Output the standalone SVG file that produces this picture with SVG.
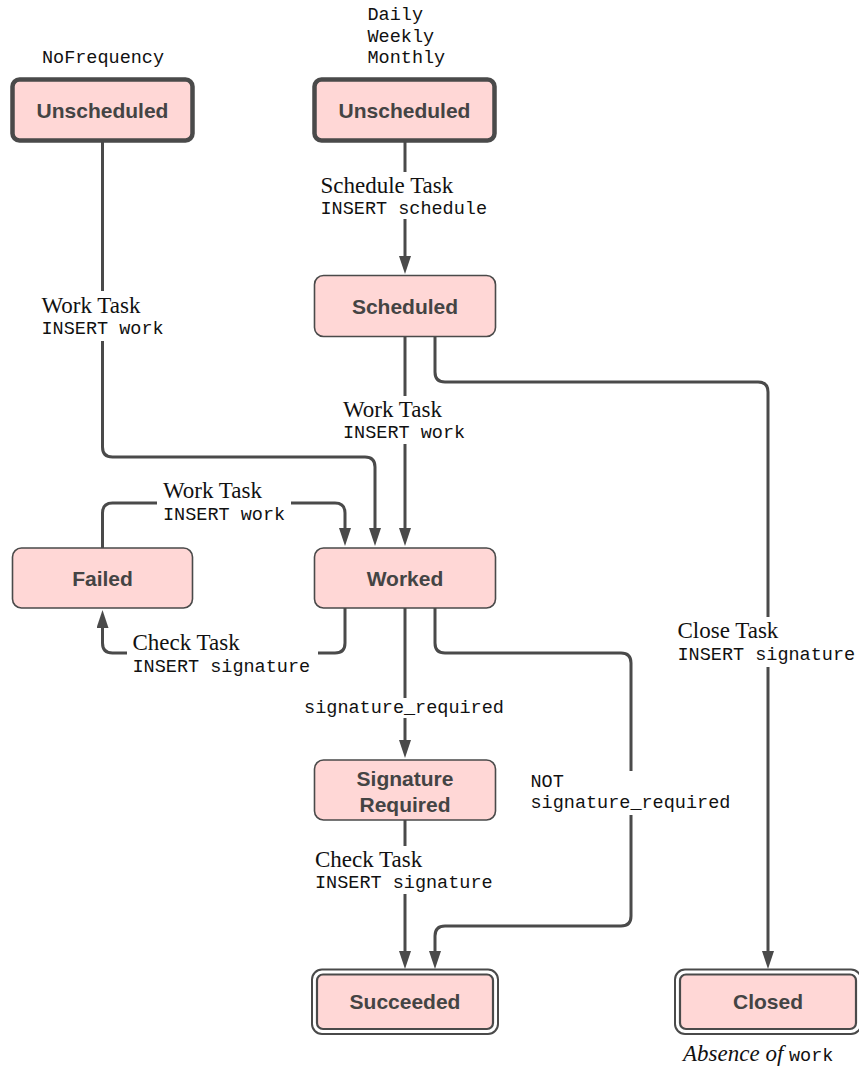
<svg xmlns="http://www.w3.org/2000/svg" width="859" height="1070" viewBox="0 0 859 1070">
<defs>
<marker id="arr" viewBox="0 0 18 12" refX="12" refY="6" markerWidth="18" markerHeight="12" markerUnits="userSpaceOnUse" orient="auto">
<path d="M0,0 L18,6 L0,12 z" fill="#4a4a4a"/>
</marker>
<style>
.box{fill:#ffd7d6;stroke:#4a4a4a;stroke-width:1.6}
.start{fill:#ffd7d6;stroke:#4a4a4a;stroke-width:4.5}
.outer{fill:#fff;stroke:#4a4a4a;stroke-width:2}
.inner{fill:#ffd7d6;stroke:#4a4a4a;stroke-width:2.2}
.lbl{font-family:"Liberation Sans",Arial,sans-serif;font-weight:bold;font-size:21px;fill:#444;text-anchor:middle}
.ser{font-family:"Liberation Serif","Times New Roman",serif;font-size:23px;fill:#111}
.mono{font-family:"Liberation Mono","Courier New",monospace;font-size:18.5px;fill:#111}
.edge{fill:none;stroke:#4a4a4a;stroke-width:3}
.arrow{marker-end:url(#arr)}
.bg{fill:#fff}
</style>
</defs>
<rect width="859" height="1070" fill="#fff"/>

<g id="connectors">
<path class="edge arrow" d="M405,141 V268"/>
<path class="edge arrow" d="M405,337 V540"/>
<path class="edge arrow" d="M102.5,141 V447 Q102.5,457 112.5,457 H365 Q375,457 375,467 V540"/>
<path class="edge arrow" d="M102.5,548 V513 Q102.5,503 112.5,503 H335 Q345,503 345,513 V540"/>
<path class="edge arrow" d="M345,608 V643 Q345,653 335,653 H112.5 Q102.5,653 102.5,643 V616"/>
<path class="edge arrow" d="M405,608 V752"/>
<path class="edge arrow" d="M435,608 V643 Q435,653 445,653 H621 Q631,653 631,663 V916 Q631,926 621,926 H445 Q435,926 435,936 V963"/>
<path class="edge arrow" d="M405,820 V963"/>
<path class="edge arrow" d="M435,337 V372 Q435,382 445,382 H758 Q768,382 768,392 V963"/>
</g>

<g id="edge-labels">
<rect class="bg" x="318" y="172" width="172" height="47"/>
<text class="ser" x="320.5" y="193">Schedule Task</text>
<text class="mono" x="320.5" y="213.5">INSERT schedule</text>

<rect class="bg" x="39" y="291" width="129" height="50"/>
<text class="ser" x="41.5" y="313">Work Task</text>
<text class="mono" x="41.5" y="334">INSERT work</text>

<rect class="bg" x="340" y="396" width="128" height="48"/>
<text class="ser" x="343" y="417">Work Task</text>
<text class="mono" x="343" y="438">INSERT work</text>

<rect class="bg" x="157" y="479" width="134" height="45"/>
<text class="ser" x="163" y="498">Work Task</text>
<text class="mono" x="163" y="520">INSERT work</text>

<rect class="bg" x="127" y="631" width="191" height="45"/>
<text class="ser" x="132.5" y="650">Check Task</text>
<text class="mono" x="132.5" y="671.5">INSERT signature</text>

<rect class="bg" x="673" y="617" width="186" height="50"/>
<text class="ser" x="677.5" y="638">Close Task</text>
<text class="mono" x="677.5" y="660">INSERT signature</text>

<rect class="bg" x="300" y="698" width="208" height="20"/>
<text class="mono" x="404" y="712.5" text-anchor="middle">signature_required</text>

<rect class="bg" x="527" y="771" width="207" height="44"/>
<text class="mono" x="530.5" y="786.5">NOT</text>
<text class="mono" x="530.5" y="807.5">signature_required</text>

<rect class="bg" x="311" y="846" width="185" height="48"/>
<text class="ser" x="315" y="867">Check Task</text>
<text class="mono" x="315" y="888">INSERT signature</text>
</g>

<g id="unscheduled-nofrequency">
<text class="mono" x="103" y="62.5" text-anchor="middle">NoFrequency</text>
<rect class="start" x="12.5" y="79.5" width="180" height="61" rx="7"/>
<text class="lbl" x="102.5" y="117.5">Unscheduled</text>
</g>

<g id="unscheduled-periodic">
<text class="mono" x="367.5" y="20">Daily</text>
<text class="mono" x="367.5" y="41.5">Weekly</text>
<text class="mono" x="367.5" y="62.5">Monthly</text>
<rect class="start" x="314.5" y="79.5" width="180" height="61" rx="7"/>
<text class="lbl" x="404.5" y="117.5">Unscheduled</text>
</g>

<g id="scheduled">
<rect class="box" x="314.5" y="275.5" width="181" height="61" rx="9"/>
<text class="lbl" x="405" y="313.5">Scheduled</text>
</g>

<g id="failed">
<rect class="box" x="12.5" y="548" width="180" height="60" rx="9"/>
<text class="lbl" x="102.5" y="585.5">Failed</text>
</g>

<g id="worked">
<rect class="box" x="314.5" y="548" width="181" height="60" rx="9"/>
<text class="lbl" x="405" y="585.5">Worked</text>
</g>

<g id="signature-required">
<rect class="box" x="314.5" y="760" width="181" height="60" rx="9"/>
<text class="lbl" x="405" y="785.5">Signature</text>
<text class="lbl" x="405" y="811.5">Required</text>
</g>

<g id="succeeded">
<rect class="outer" x="312" y="969.5" width="186" height="64.5" rx="10"/>
<rect class="inner" x="317" y="974.5" width="176" height="54.5" rx="6"/>
<text class="lbl" x="405" y="1009">Succeeded</text>
</g>

<g id="closed">
<rect class="outer" x="675" y="969.5" width="186" height="64.5" rx="10"/>
<rect class="inner" x="680" y="974.5" width="176" height="54.5" rx="6"/>
<text class="lbl" x="768" y="1009">Closed</text>
<text x="683" y="1061"><tspan class="ser" font-style="italic">Absence of </tspan><tspan class="mono">work</tspan></text>
</g>
</svg>
